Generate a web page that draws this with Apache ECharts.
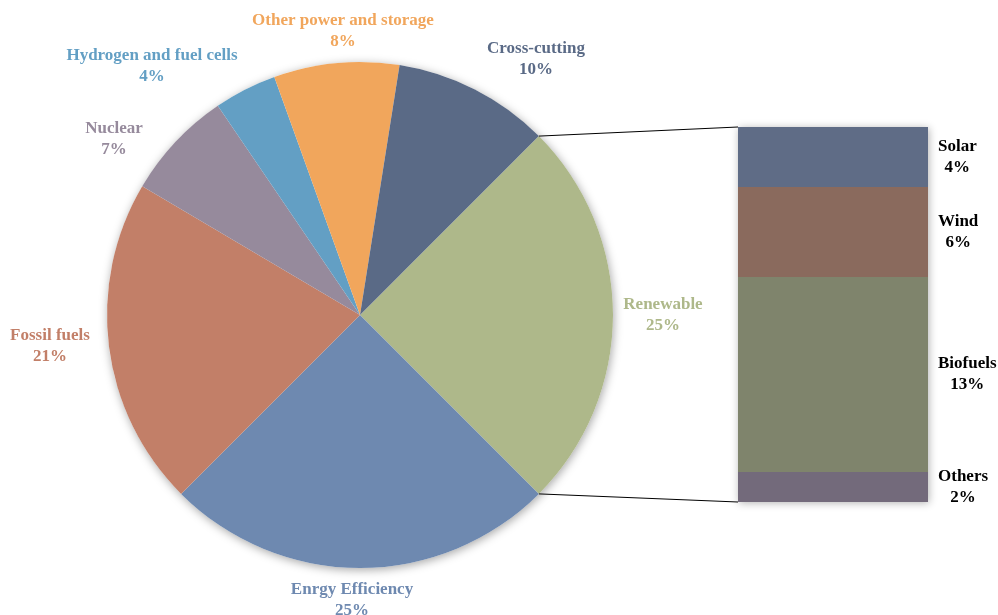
<!DOCTYPE html>
<html>
<head>
<meta charset="utf-8">
<script src="https://cdn.jsdelivr.net/npm/echarts@6/dist/echarts.min.js"></script>
<style>
html,body{margin:0;padding:0;background:#fff;}
#chart{width:998px;height:615px;}
</style>
</head>
<body>
<div id="chart"></div>
<script>
// ---- data ----
const categories = ['Renewable', 'Enrgy Efficiency', 'Fossil fuels', 'Nuclear', 'Hydrogen and fuel cells', 'Other power and storage', 'Cross-cutting'];
const shares = [25, 25, 21, 7, 4, 8, 10];
const renewableParts = ['Solar', 'Wind', 'Biofuels', 'Others'];
const renewableShares = [4, 6, 13, 2];

// ---- layout / style ----
const CX = 360, CY = 315, R = 253;
const GRID = {left: 738, top: 127, width: 190, height: 375};
const pieColors = ['#AEB88A', '#6E89B0', '#C27F68', '#968A9C', '#639FC4', '#F1A65C', '#5A6A86'];
const barColors = ['#5F6C86', '#8A6A5D', '#7F846C', '#736A7B'];
const labelOffsets = [[303, 0], [-8, 285], [-310, 31], [-246, -176], [-208, -249], [-17, -284], [176, -256]];
const FONT = '"Liberation Serif", "Times New Roman", serif';
const FS = 17;

const chart = echarts.init(document.getElementById('chart'), null, {renderer: 'canvas'});

const total = renewableShares.reduce((a, b) => a + b, 0);
const a45 = Math.PI / 4;
const p1 = [CX + R * Math.cos(a45), CY - R * Math.sin(a45)];
const p2 = [CX + R * Math.cos(a45), CY + R * Math.sin(a45)];

const barSeries = renewableParts.map((name, i) => ({
  type: 'bar',
  name: name,
  stack: 'ren',
  barWidth: '100%',
  data: [renewableShares[i]],
  itemStyle: {color: barColors[i], borderWidth: 0},
  silent: true,
  label: {
    show: true,
    position: 'right',
    distance: 10,
    formatter: '{n|' + name + '}\n{n|' + renewableShares[i] + '%}',
    rich: {
      n: {align: 'center', fontFamily: FONT, fontWeight: 'bold', fontSize: FS, color: '#000', lineHeight: 21}
    }
  }
}));

const option = {
  backgroundColor: '#fff',
  animation: false,
  grid: Object.assign({
    show: true, backgroundColor: '#7a7a74', borderWidth: 0,
    shadowBlur: 8, shadowColor: 'rgba(0,0,0,0.3)', shadowOffsetX: 1, shadowOffsetY: 1
  }, GRID),
  xAxis: {type: 'category', data: ['Renewable'], show: false},
  yAxis: {type: 'value', min: 0, max: total, inverse: true, show: false},
  series: [
    {
      type: 'pie',
      center: [CX, CY],
      radius: R,
      silent: true,
      label: {show: false},
      labelLine: {show: false},
      data: [{value: 1, itemStyle: {color: '#fff', shadowBlur: 10, shadowColor: 'rgba(0,0,0,0.35)', shadowOffsetX: 1, shadowOffsetY: 2}}]
    },
    {
      type: 'pie',
      center: [CX, CY],
      radius: R,
      startAngle: 45,
      clockwise: true,
      silent: true,
      data: categories.map((c, i) => ({name: c, value: shares[i], itemStyle: {color: pieColors[i]},
        label: {color: pieColors[i]}})),
      label: {
        show: true,
        position: 'outside',
        formatter: '{b}\n{c}%',
        fontFamily: FONT,
        fontWeight: 'bold',
        fontSize: FS,
        lineHeight: 21,
        align: 'center',
        overflow: 'none',
        edgeDistance: 0,
        bleedMargin: 0
      },
      labelLine: {show: false},
      labelLayout: function (params) {
        const o = labelOffsets[params.dataIndex];
        return {x: CX + o[0], y: CY + o[1], align: 'center', verticalAlign: 'middle'};
      }
    }
  ].concat(barSeries),
  graphic: [
    {type: 'line', shape: {x1: p1[0], y1: p1[1], x2: GRID.left, y2: GRID.top}, style: {stroke: '#000', lineWidth: 1}, z: 10},
    {type: 'line', shape: {x1: p2[0], y1: p2[1], x2: GRID.left, y2: GRID.top + GRID.height}, style: {stroke: '#000', lineWidth: 1}, z: 10}
  ]
};
chart.setOption(option);
</script>
</body>
</html>
